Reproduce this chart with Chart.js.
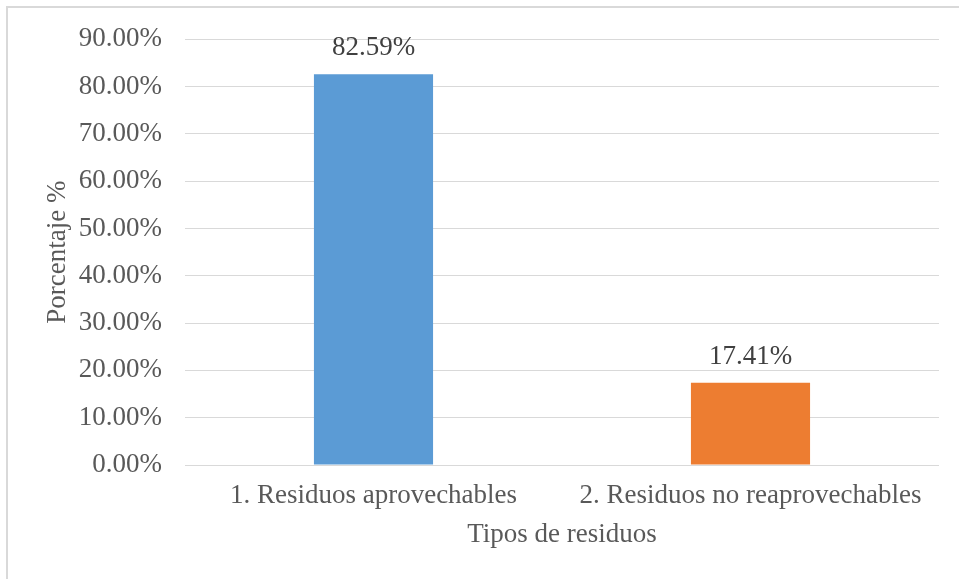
<!DOCTYPE html>
<html lang="es">
<head>
  <meta charset="UTF-8">
  <title>Tipos de residuos</title>
  <script src="https://cdn.jsdelivr.net/npm/chart.js"></script>
  <style>
    html, body {
      margin: 0;
      padding: 0;
      background: #fff;
      overflow: hidden;
    }

    #wrap {
      position: relative;
      width: 959px;
      height: 579px;
      overflow: hidden;
    }

    #frame {
      position: absolute;
      left: 6px;
      top: 6px;
      width: 1000px;
      height: 1000px;
      border: 2px solid #d9d9d9;
      pointer-events: none;
    }

    #chart {
      position: absolute;
      left: 0;
      top: 0;
    }
  </style>
</head>
<body>
  <div id="wrap">
    <canvas id="chart" width="959" height="579"></canvas>
    <div id="frame"></div>
  </div>

  <script>
    const categories = ['1. Residuos aprovechables', '2. Residuos no reaprovechables'];
    const percentages = [82.59, 17.41];
    const barColors = ['#5B9BD5', '#ED7D31'];
    const yTicks = [0, 10, 20, 30, 40, 50, 60, 70, 80, 90];

    const serif = "'Liberation Serif', 'Times New Roman', serif";

    // labels above each bar, placed from the bar elements
    const valueLabels = {
      id: 'valueLabels',
      afterDatasetsDraw(chart) {
        const ctx = chart.ctx;
        const meta = chart.getDatasetMeta(0);
        ctx.save();
        ctx.font = '27px ' + serif;
        ctx.fillStyle = '#404040';
        ctx.textAlign = 'center';
        ctx.textBaseline = 'middle';
        meta.data.forEach((bar, i) => {
          ctx.fillText(percentages[i].toFixed(2) + '%', bar.x, bar.y - 26);
        });
        ctx.restore();
      }
    };

    const ctx = document.getElementById('chart').getContext('2d');
    const chart = new Chart(ctx, {
      type: 'bar',
      data: {
        labels: categories,
        datasets: [{
          data: percentages,
          backgroundColor: barColors,
          borderWidth: 0,
          categoryPercentage: 1,
          barPercentage: 0.316
        }]
      },
      options: {
        responsive: false,
        animation: false,
        layout: {
          padding: { top: 36, right: 20, bottom: 0, left: 0 }
        },
        plugins: {
          legend: { display: false },
          tooltip: { enabled: false }
        },
        scales: {
          x: {
            grid: { display: false, drawTicks: false },
            border: { display: false },
            ticks: {
              color: '#595959',
              font: { family: serif, size: 27 },
              padding: 15,
              maxRotation: 0
            },
            title: {
              display: true,
              text: 'Tipos de residuos',
              color: '#595959',
              font: { family: serif, size: 27 },
              padding: { top: 0, bottom: 28 }
            },
            afterFit(scale) {
              scale.height = 114;
            }
          },
          y: {
            min: 0,
            max: 90,
            afterBuildTicks(scale) {
              scale.ticks = yTicks.map(v => ({ value: v }));
            },
            grid: { color: '#d9d9d9', lineWidth: 1, drawTicks: false },
            border: { display: false },
            ticks: {
              color: '#595959',
              font: { family: serif, size: 27 },
              padding: 23,
              callback: v => v.toFixed(2) + '%'
            },
            title: {
              display: true,
              text: 'Porcentaje %',
              color: '#595959',
              font: { family: serif, size: 27 },
              padding: { top: 42, bottom: 0 }
            },
            afterFit(scale) {
              scale.width = 185;
            }
          }
        }
      },
      plugins: [valueLabels]
    });
  </script>
</body>
</html>
